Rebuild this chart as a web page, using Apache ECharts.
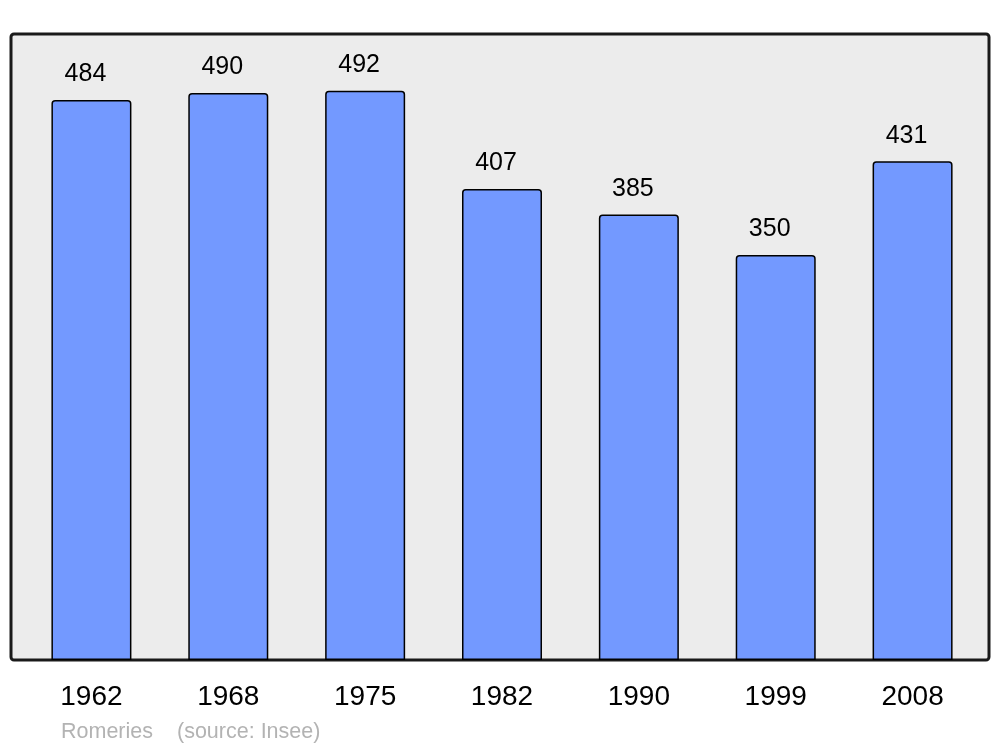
<!DOCTYPE html>
<html>
<head>
<meta charset="utf-8">
<script src="https://cdn.jsdelivr.net/npm/echarts@6/dist/echarts.min.js"></script>
<style>html,body{margin:0;padding:0;background:#fff}#c{width:1000px;height:747px}</style>
</head>
<body>
<div id="c"></div>
<script>
var years = ['1962', '1968', '1975', '1982', '1990', '1999', '2008'];
var population = [484, 490, 492, 407, 385, 350, 431];
var townName = 'Romeries';
var sourceText = '(source: Insee)';

var chart = echarts.init(document.getElementById('c'), null, {renderer: 'canvas'});
chart.setOption({
  animation: false,
  backgroundColor: '#ffffff',
  textStyle: {fontFamily: 'Liberation Sans, Arial, sans-serif'},
  graphic: [
    {type: 'rect', z: -10, shape: {x: 11, y: 34, width: 978, height: 626, r: 3},
     style: {fill: '#ececec', stroke: '#1a1a1a', lineWidth: 3}},
    {type: 'text', left: 61, top: 721, style: {text: townName, fill: '#b3b3b3', font: '21.5px Liberation Sans, Arial, sans-serif'}},
    {type: 'text', left: 177, top: 721, style: {text: sourceText, fill: '#b3b3b3', font: '21.5px Liberation Sans, Arial, sans-serif'}}
  ],
  grid: {left: 23, right: 19, top: 34, bottom: 87, containLabel: false},
  xAxis: {
    type: 'category', data: years,
    axisLine: {show: false}, axisTick: {show: false},
    axisLabel: {color: '#000', fontSize: 28, margin: 23, fontFamily: 'Liberation Sans, Arial, sans-serif'}
  },
  yAxis: {
    type: 'value', min: 0, max: 541, show: false, splitLine: {show: false}
  },
  series: [{
    type: 'bar', data: population, barWidth: 80,
    itemStyle: {color: '#7399ff', borderColor: '#000', borderWidth: 1.5, borderRadius: [3, 3, 0, 0]},
    label: {show: true, position: 'top', distance: 13, offset: [-6, 0], color: '#000', fontSize: 25, fontFamily: 'Liberation Sans, Arial, sans-serif'}
  }]
});
</script>
</body>
</html>
